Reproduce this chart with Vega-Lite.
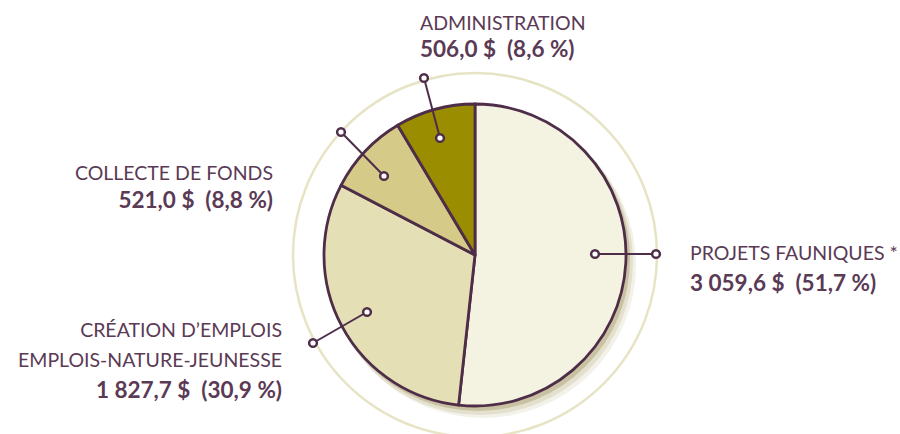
{
  "$schema": "https://vega.github.io/schema/vega-lite/v6.json",
  "width": 900,
  "height": 434,
  "autosize": "none",
  "padding": 0,
  "background": "white",
  "config": {"view": {"stroke": null}},
  "datasets": {
    "slices": [
      {"category": "Projets fauniques", "value": 3059.6, "order": 1, "ix": 120, "iy": 1, "ox": 181, "oy": 1},
      {"category": "Création d’emplois", "value": 1827.7, "order": 2, "ix": -108, "iy": -57, "ox": -162, "oy": -88},
      {"category": "Collecte de fonds", "value": 521.0, "order": 3, "ix": -91, "iy": 79, "ox": -134, "oy": 123},
      {"category": "Administration", "value": 506.0, "order": 4, "ix": -35, "iy": 117, "ox": -51, "oy": 177}
    ],
    "labels": [
      {"text": "ADMINISTRATION", "kind": "name", "side": "left", "x": -55, "y": 225},
      {"text": "506,0\u00a0$\u00a0\u00a0(8,6\u00a0%)", "kind": "value", "side": "left", "x": -55, "y": 198},
      {"text": "COLLECTE DE FONDS", "kind": "name", "side": "right", "x": -202, "y": 75},
      {"text": "521,0\u00a0$\u00a0\u00a0(8,8\u00a0%)", "kind": "value", "side": "right", "x": -202, "y": 47},
      {"text": "CRÉATION D’EMPLOIS", "kind": "name", "side": "right", "x": -193, "y": -82},
      {"text": "EMPLOIS-NATURE-JEUNESSE", "kind": "name", "side": "right", "x": -193, "y": -112},
      {"text": "1\u00a0827,7\u00a0$\u00a0\u00a0(30,9\u00a0%)", "kind": "value", "side": "right", "x": -193, "y": -143},
      {"text": "PROJETS FAUNIQUES *", "kind": "name", "side": "left", "x": 215, "y": -5},
      {"text": "3\u00a0059,6\u00a0$\u00a0\u00a0(51,7\u00a0%)", "kind": "value", "side": "left", "x": 215, "y": -36}
    ],
    "one": [{"v": 1}]
  },
  "layer": [
    {
      "data": {"name": "one"},
      "mark": {"type": "arc", "radius": 182, "theta": 0, "theta2": 6.2832, "fill": null, "stroke": "#e7e4c6", "strokeWidth": 2.5},
      "encoding": {
        "x": {"datum": 0, "type": "quantitative", "scale": {"domain": [-475, 425], "nice": false, "zero": false}, "axis": null},
        "y": {"datum": 0, "type": "quantitative", "scale": {"domain": [-179, 255], "nice": false, "zero": false}, "axis": null}
      }
    },
    {
      "data": {"name": "one"},
      "mark": {"type": "arc", "radius": 153, "theta": 0, "theta2": 6.2832, "fill": "#9a9050", "opacity": 0.12},
      "encoding": {
        "x": {"datum": 8, "type": "quantitative"},
        "y": {"datum": -10, "type": "quantitative"}
      }
    },
    {
      "data": {"name": "one"},
      "mark": {"type": "arc", "radius": 153, "theta": 0, "theta2": 6.2832, "fill": "#9a9050", "opacity": 0.18},
      "encoding": {
        "x": {"datum": 5, "type": "quantitative"},
        "y": {"datum": -7, "type": "quantitative"}
      }
    },
    {
      "data": {"name": "one"},
      "mark": {"type": "arc", "radius": 152, "theta": 0, "theta2": 6.2832, "fill": "#8a7f40", "opacity": 0.3},
      "encoding": {
        "x": {"datum": 3, "type": "quantitative"},
        "y": {"datum": -4, "type": "quantitative"}
      }
    },
    {
      "data": {"name": "slices"},
      "mark": {"type": "arc", "radius": 151, "stroke": "#4e2d48", "strokeWidth": 2.8, "strokeJoin": "round"},
      "encoding": {
        "x": {"datum": 0, "type": "quantitative"},
        "y": {"datum": 0, "type": "quantitative"},
        "theta": {"field": "value", "type": "quantitative", "stack": true},
        "order": {"field": "order", "type": "quantitative"},
        "color": {
          "field": "category", "type": "nominal", "legend": null,
          "scale": {
            "domain": ["Projets fauniques", "Création d’emplois", "Collecte de fonds", "Administration"],
            "range": ["#f4f2e1", "#e5dfb6", "#d5ca88", "#9b8d00"]
          }
        }
      }
    },
    {
      "data": {"name": "slices"},
      "mark": {"type": "rule", "color": "#4e2d48", "strokeWidth": 2},
      "encoding": {
        "x": {"field": "ix", "type": "quantitative"},
        "y": {"field": "iy", "type": "quantitative"},
        "x2": {"field": "ox"},
        "y2": {"field": "oy"}
      }
    },
    {
      "data": {"name": "slices"},
      "mark": {"type": "point", "filled": true, "fill": "white", "stroke": "#4e2d48", "strokeWidth": 2.5, "size": 60, "opacity": 1},
      "encoding": {
        "x": {"field": "ix", "type": "quantitative"},
        "y": {"field": "iy", "type": "quantitative"}
      }
    },
    {
      "data": {"name": "slices"},
      "mark": {"type": "point", "filled": true, "fill": "white", "stroke": "#4e2d48", "strokeWidth": 2.5, "size": 60, "opacity": 1},
      "encoding": {
        "x": {"field": "ox", "type": "quantitative"},
        "y": {"field": "oy", "type": "quantitative"}
      }
    },
    {
      "data": {"name": "labels"},
      "transform": [{"filter": "datum.side == 'left' && datum.kind == 'name'"}],
      "mark": {"type": "text", "align": "left", "baseline": "alphabetic", "font": "Lato", "fontSize": 19.5, "color": "#5a3a55"},
      "encoding": {
        "x": {"field": "x", "type": "quantitative"},
        "y": {"field": "y", "type": "quantitative"},
        "text": {"field": "text"}
      }
    },
    {
      "data": {"name": "labels"},
      "transform": [{"filter": "datum.side == 'left' && datum.kind == 'value'"}],
      "mark": {"type": "text", "align": "left", "baseline": "alphabetic", "font": "Lato", "fontSize": 22.5, "fontWeight": "bold", "color": "#5a3a55"},
      "encoding": {
        "x": {"field": "x", "type": "quantitative"},
        "y": {"field": "y", "type": "quantitative"},
        "text": {"field": "text"}
      }
    },
    {
      "data": {"name": "labels"},
      "transform": [{"filter": "datum.side == 'right' && datum.kind == 'name'"}],
      "mark": {"type": "text", "align": "right", "baseline": "alphabetic", "font": "Lato", "fontSize": 19.5, "color": "#5a3a55"},
      "encoding": {
        "x": {"field": "x", "type": "quantitative"},
        "y": {"field": "y", "type": "quantitative"},
        "text": {"field": "text"}
      }
    },
    {
      "data": {"name": "labels"},
      "transform": [{"filter": "datum.side == 'right' && datum.kind == 'value'"}],
      "mark": {"type": "text", "align": "right", "baseline": "alphabetic", "font": "Lato", "fontSize": 22.5, "fontWeight": "bold", "color": "#5a3a55"},
      "encoding": {
        "x": {"field": "x", "type": "quantitative"},
        "y": {"field": "y", "type": "quantitative"},
        "text": {"field": "text"}
      }
    }
  ]
}
